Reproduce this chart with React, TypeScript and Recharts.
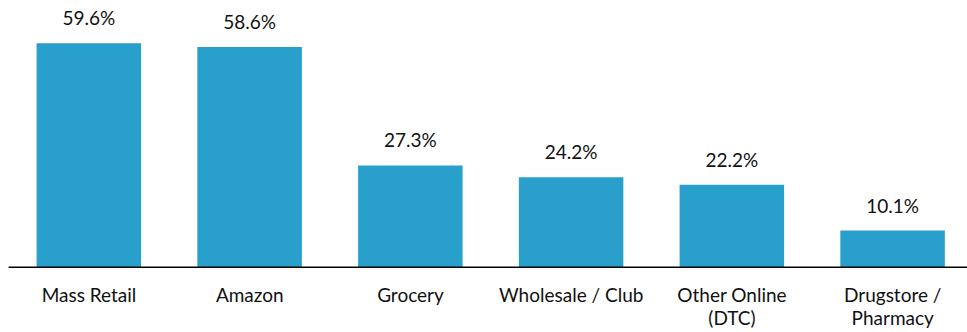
import { BarChart, Bar, XAxis, YAxis, LabelList } from 'recharts'

const categories = [
  'Mass Retail',
  'Amazon',
  'Grocery',
  'Wholesale / Club',
  'Other Online\n(DTC)',
  'Drugstore /\nPharmacy',
]
const shares = [59.6, 58.6, 27.3, 24.2, 22.2, 10.1]

const data = categories.map((name, i) => ({ name, share: shares[i] }))

const FONT = 'Lato, "Open Sans", sans-serif'
const BAR_COLOR = '#299FCB'

function CategoryTick(props: any) {
  const { x, y, payload } = props
  const lines = String(payload.value).split('\n')
  return (
    <text x={x} y={y} textAnchor="middle" fontFamily={FONT} fontSize={19} fill="#111">
      {lines.map((line, i) => (
        <tspan key={i} x={x} dy={i === 0 ? 35 : 22.5}>
          {line}
        </tspan>
      ))}
    </text>
  )
}

export default function App() {
  return (
    <div style={{ position: 'absolute', top: 0, left: 0, width: 967, height: 332, overflow: 'hidden', background: '#fff' }}>
      <BarChart
        width={974}
        height={332}
        data={data}
        margin={{ top: 41.7, right: 0.9, left: 8.6, bottom: 0 }}
      >
        <XAxis
          dataKey="name"
          height={64.7}
          tickLine={false}
          tickSize={0}
          tickMargin={0}
          interval={0}
          axisLine={{ stroke: '#000', strokeWidth: 1.6 }}
          tick={<CategoryTick />}
        />
        <YAxis hide domain={[0.4, 60]} allowDataOverflow />
        <Bar dataKey="share" fill={BAR_COLOR} barSize={104.5} isAnimationActive={false}>
          <LabelList
            dataKey="share"
            position="top"
            offset={18}
            formatter={(v: any) => `${Number(v).toFixed(1)}%`}
            style={{ fontFamily: FONT, fontSize: 19, fill: '#111' }}
          />
        </Bar>
      </BarChart>
    </div>
  )
}
